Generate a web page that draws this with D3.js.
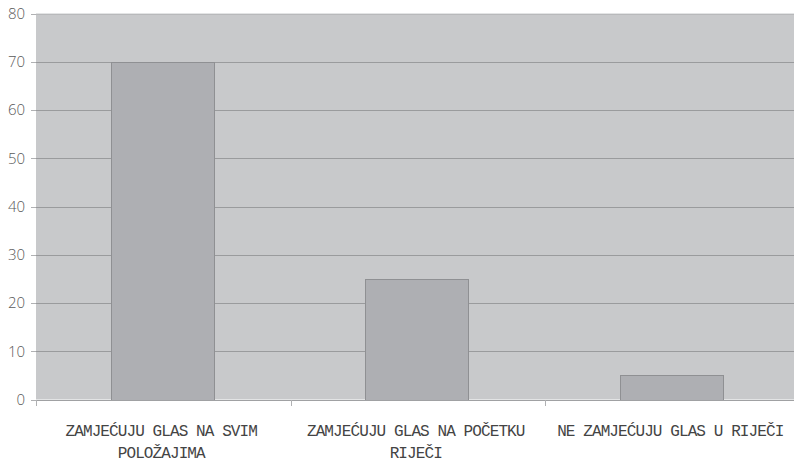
<!DOCTYPE html>
<html>
<head>
<meta charset="utf-8">
<script src="https://cdn.jsdelivr.net/npm/d3@7"></script>
<style>
  html, body { margin: 0; padding: 0; background: #fff; }
  svg { display: block; }
</style>
</head>
<body>
<svg id="chart" width="794" height="463"></svg>
<script>
// Answer categories (each split across display lines) and percentages
const categories = [
  ["ZAMJEĆUJU GLAS NA SVIM", "POLOŽAJIMA"],
  ["ZAMJEĆUJU GLAS NA POČETKU", "RIJEČI"],
  ["NE ZAMJEĆUJU GLAS U RIJEČI"]
];
const values = [70, 25, 5];
const yTicks = [0, 10, 20, 30, 40, 50, 60, 70, 80];

const svg = d3.select("#chart");
const plotLeft = 36, plotRight = 799.5, plotTop = 13.5, plotBottom = 399.5;

const keys = categories.map(c => c.join(" "));
const x = d3.scaleBand().domain(keys).range([plotLeft, plotRight]).padding(0);
const y = d3.scaleLinear().domain([0, 80]).range([plotBottom, plotTop]);

// plot background
svg.append("rect")
  .attr("x", plotLeft).attr("y", plotTop)
  .attr("width", plotRight - plotLeft).attr("height", plotBottom - plotTop)
  .attr("fill", "#c8c9cb");

// horizontal gridlines
svg.append("g").selectAll("line")
  .data(yTicks.filter(d => d > 0))
  .join("line")
  .attr("x1", plotLeft).attr("x2", plotRight)
  .attr("y1", d => Math.round(y(d)) + 0.5).attr("y2", d => Math.round(y(d)) + 0.5)
  .attr("stroke", d => d === 80 ? "#b8b9bb" : "#9a9b9d")
  .attr("stroke-width", 1);

// bars
const barFrac = 0.405;
svg.append("g").selectAll("rect")
  .data(values)
  .join("rect")
  .attr("x", (d, i) => Math.round(x(keys[i]) + x.bandwidth() * (1 - barFrac) / 2) - 0.5)
  .attr("y", d => Math.round(y(d)) + 0.5)
  .attr("width", Math.round(x.bandwidth() * barFrac))
  .attr("height", d => Math.round(plotBottom) - Math.round(y(d)))
  .attr("fill", "#aeafb3")
  .attr("stroke", "#8f9093")
  .attr("stroke-width", 1);

// bottom axis line and category separators
svg.append("line")
  .attr("x1", plotLeft).attr("x2", plotRight)
  .attr("y1", Math.round(plotBottom) + 0.5).attr("y2", Math.round(plotBottom) + 0.5)
  .attr("stroke", "#a0a1a3");
const bounds = keys.map(k => x(k)).concat([plotRight]);
svg.append("g").selectAll("line")
  .data(bounds)
  .join("line")
  .attr("x1", d => Math.round(d) + 0.5).attr("x2", d => Math.round(d) + 0.5)
  .attr("y1", Math.round(plotBottom)).attr("y2", Math.round(plotBottom) + 6)
  .attr("stroke", "#b0b1b3");

// y tick marks and labels
const yg = svg.append("g");
yg.selectAll("line")
  .data(yTicks)
  .join("line")
  .attr("x1", plotLeft - 5).attr("x2", plotLeft)
  .attr("y1", d => Math.round(y(d)) + 0.5).attr("y2", d => Math.round(y(d)) + 0.5)
  .attr("stroke", "#b0b1b3");
yg.selectAll("text")
  .data(yTicks)
  .join("text")
  .attr("x", 25)
  .attr("y", d => y(d))
  .attr("dy", "0.36em")
  .attr("text-anchor", "end")
  .attr("font-family", "'Open Sans', sans-serif")
  .attr("font-weight", 300)
  .attr("font-size", 15)
  .attr("fill", "#5a5a5a")
  .text(d => d);

// category labels
const lg = svg.append("g");
categories.forEach((lines, i) => {
  const cx = x(keys[i]) + x.bandwidth() / 2 - 2;
  const t = lg.append("text")
    .attr("text-anchor", "middle")
    .attr("font-family", "'Liberation Mono', 'Courier New', monospace")
    .attr("font-size", 16)
    .attr("letter-spacing", -0.9)
    .attr("fill", "#444");
  lines.forEach((ln, j) => {
    t.append("tspan").attr("x", cx).attr("y", 436 + j * 22).text(ln);
  });
});
</script>
</body>
</html>
